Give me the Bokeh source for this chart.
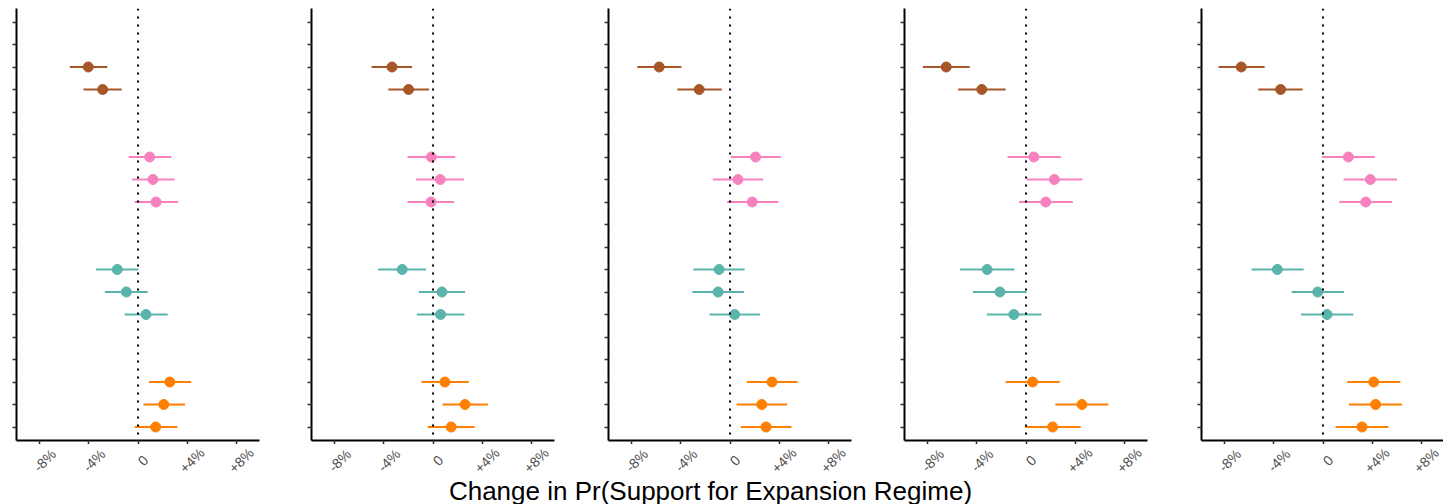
from bokeh.plotting import figure
from bokeh.layouts import row, column
from bokeh.models import (FixedTicker, Span, ColumnDataSource, CustomLabelingPolicy)
from bokeh.core.properties import value
from bokeh.embed import file_html
from bokeh.resources import INLINE
import math

# Row slots on the y axis (1 = bottom); 19 slots, groups separated by blank slots
row_slots = [17, 16, 13, 12, 11, 8, 7, 6, 3, 2, 1]
groups = ["brown", "brown", "pink", "pink", "pink", "teal", "teal", "teal", "orange", "orange", "orange"]
group_colors = {"brown": "#A65628", "pink": "#F781BF", "teal": "#5AB4AC", "orange": "#FF7F00"}

x_tick_values = [-8, -4, 0, 4, 8]
x_tick_labels = ["-8%", "-4%", "0", "+4%", "+8%"]
x_axis_title = "Change in Pr(Support for Expansion Regime)"

# Estimates and 95% intervals (percentage points), one list per panel
est_1 = [-4.05, -2.88, 0.95, 1.22, 1.47, -1.69, -0.95, 0.65, 2.59, 2.10, 1.44]
lo_1 = [-5.55, -4.44, -0.76, -0.49, -0.27, -3.43, -2.69, -1.09, 0.90, 0.44, -0.27]
hi_1 = [-2.50, -1.33, 2.72, 2.99, 3.27, 0.03, 0.79, 2.42, 4.33, 3.84, 3.21]

est_2 = [-3.34, -1.99, -0.13, 0.59, -0.16, -2.51, 0.73, 0.62, 0.97, 2.61, 1.48]
lo_2 = [-5.01, -3.64, -2.08, -1.37, -2.08, -4.47, -1.16, -1.32, -0.94, 0.78, -0.43]
hi_2 = [-1.70, -0.32, 1.81, 2.53, 1.73, -0.57, 2.61, 2.56, 2.91, 4.47, 3.40]

est_3 = [-5.77, -2.51, 2.08, 0.65, 1.81, -0.89, -0.97, 0.38, 3.42, 2.59, 2.94]
lo_3 = [-7.55, -4.29, 0.05, -1.40, -0.24, -2.99, -3.07, -1.67, 1.37, 0.54, 0.89]
hi_3 = [-3.96, -0.67, 4.15, 2.70, 3.94, 1.19, 1.13, 2.45, 5.50, 4.66, 5.01]

est_4 = [-6.50, -3.60, 0.64, 2.31, 1.61, -3.17, -2.12, -0.99, 0.54, 4.56, 2.17]
lo_4 = [-8.40, -5.53, -1.50, 0.05, -0.56, -5.37, -4.32, -3.19, -1.66, 2.39, -0.08]
hi_4 = [-4.59, -1.66, 2.85, 4.59, 3.81, -0.94, 0.05, 1.26, 2.74, 6.71, 4.46]

est_5 = [-6.66, -3.45, 2.07, 3.86, 3.48, -3.72, -0.43, 0.33, 4.13, 4.29, 3.18]
lo_5 = [-8.51, -5.27, -0.08, 1.68, 1.33, -5.82, -2.55, -1.79, 1.98, 2.12, 1.03]
hi_5 = [-4.76, -1.66, 4.21, 6.03, 5.63, -1.58, 1.71, 2.47, 6.30, 6.44, 5.33]

panels = [(est_1, lo_1, hi_1), (est_2, lo_2, hi_2), (est_3, lo_3, hi_3),
          (est_4, lo_4, hi_4), (est_5, lo_5, hi_5)]

FONT = "Liberation Sans"
X_MIN, X_MAX = -9.9, 9.9
Y_MIN, Y_MAX = 0.4, 19.6
LEFT, FRAME_W = 16, 243
TOP, FRAME_H, BOTTOM = 8, 432, 4
panel_widths = [295, 297, 296, 297, 258]
PANEL_H = TOP + FRAME_H + BOTTOM
TICKLAB_H = 32
TITLE_H = 504 - PANEL_H - TICKLAB_H

# tick labels are drawn in a strip below each panel, so the axes render none
no_labels = CustomLabelingPolicy(code="return new indices.constructor(indices.size)")


def style_axis(ax):
    ax.axis_line_width = 2
    ax.axis_line_color = "black"
    ax.major_tick_in = 0
    ax.major_tick_out = 4
    ax.major_tick_line_width = 1.5
    ax.major_tick_line_color = "#333333"
    ax.minor_tick_line_color = None
    ax.major_label_text_font_size = "0px"
    ax.major_label_standoff = 0
    ax.major_label_policy = no_labels


def bare(p):
    p.outline_line_color = None
    p.grid.visible = False
    p.background_fill_color = "white"
    p.border_fill_color = "white"


def make_panel(est, lo, hi, width):
    frame_w = min(FRAME_W, width - LEFT)
    x_end = X_MIN + (X_MAX - X_MIN) * frame_w / FRAME_W
    p = figure(width=width, height=PANEL_H, x_range=(X_MIN, x_end), y_range=(Y_MIN, Y_MAX),
               output_backend="svg", toolbar_location=None, title=None,
               min_border_left=LEFT, min_border_right=width - LEFT - frame_w,
               min_border_top=TOP, min_border_bottom=BOTTOM)
    bare(p)

    src = ColumnDataSource(dict(y=row_slots, est=est, lo=lo, hi=hi,
                                color=[group_colors[g] for g in groups]))
    p.add_layout(Span(location=0, dimension="height", line_color="black",
                      line_width=2, line_dash="2 6"))
    p.segment(x0="lo", x1="hi", y0="y", y1="y", line_color="color", line_width=2.2, source=src)
    p.scatter(x="est", y="y", size=10, fill_color="color", line_color="color", source=src)

    p.yaxis.ticker = FixedTicker(ticks=list(range(1, 20)))
    p.xaxis.ticker = FixedTicker(ticks=x_tick_values)
    style_axis(p.yaxis[0])
    style_axis(p.xaxis[0])

    # strip of rotated tick labels sharing the panel's x scale
    s = figure(width=width, height=TICKLAB_H, x_range=p.x_range, y_range=(0, TICKLAB_H),
               output_backend="svg", toolbar_location=None, title=None,
               min_border_left=LEFT, min_border_right=width - LEFT - frame_w,
               min_border_top=0, min_border_bottom=0)
    bare(s)
    s.axis.visible = False
    lab_src = ColumnDataSource(dict(x=x_tick_values, y=[TICKLAB_H / 2] * len(x_tick_values),
                                    text=x_tick_labels))
    s.text(x="x", y="y", text="text", source=lab_src, angle=math.pi / 4,
           x_offset=5, text_align="center", text_baseline="middle",
           text_font=value(FONT), text_font_size="14px", text_color="#4D4D4D")
    return column(p, s, spacing=0)


cols = [make_panel(e, l, h, w) for (e, l, h), w in zip(panels, panel_widths)]

# shared x-axis title underneath the panels
TOTAL_W = sum(panel_widths)
title_fig = figure(width=TOTAL_W, height=TITLE_H, x_range=(0, TOTAL_W), y_range=(0, TITLE_H),
                   output_backend="svg", toolbar_location=None, title=None,
                   min_border=0)
bare(title_fig)
title_fig.axis.visible = False
title_fig.text(x=[710], y=[TITLE_H / 2], text=[x_axis_title], text_font=value(FONT),
               text_font_size="26px", text_color="black",
               text_align="center", text_baseline="middle")

layout = column(row(*cols, spacing=0), title_fig, spacing=0)
open("out.html", "w").write(file_html(layout, INLINE))
